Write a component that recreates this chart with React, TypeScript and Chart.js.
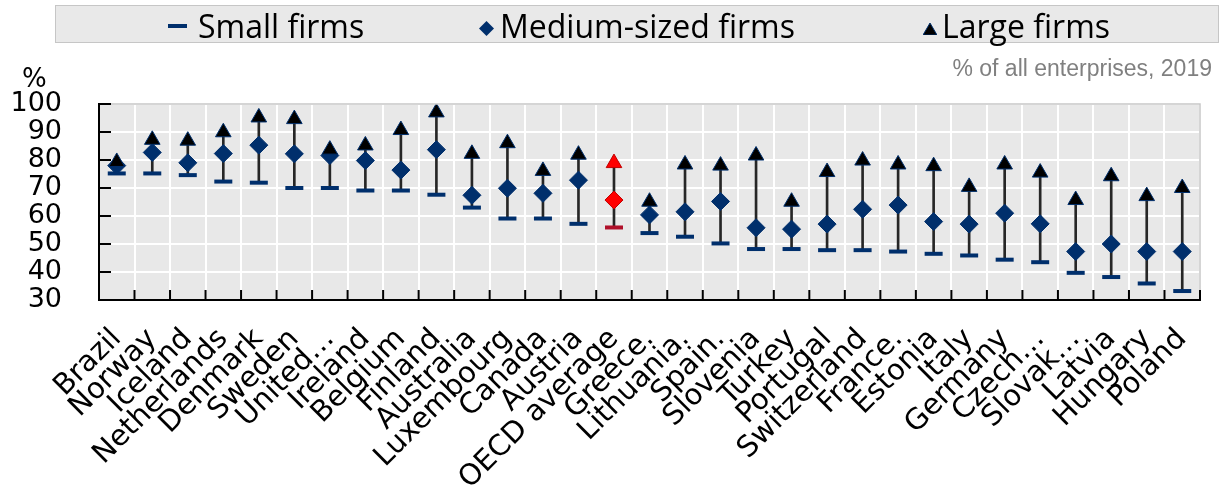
import React, { useEffect, useRef } from 'react';
import { Chart, registerables } from 'chart.js';

Chart.register(...registerables);

const categories = [
  'Brazil', 'Norway', 'Iceland', 'Netherlands', 'Denmark', 'Sweden', 'United…', 'Ireland',
  'Belgium', 'Finland', 'Australia', 'Luxembourg', 'Canada', 'Austria', 'OECD average',
  'Greece.', 'Lithuania.', 'Spain.', 'Slovenia', 'Turkey', 'Portugal', 'Switzerland',
  'France.', 'Estonia', 'Italy', 'Germany', 'Czech…', 'Slovak…', 'Latvia', 'Hungary', 'Poland',
];

const smallFirms = [
  75.2, 75.2, 74.6, 72.3, 71.9, 70.0, 70.0, 69.1, 69.1, 67.6, 63.0, 59.1, 59.1, 57.2, 55.9,
  53.9, 52.6, 50.2, 48.2, 48.2, 47.8, 47.8, 47.3, 46.5, 45.9, 44.4, 43.5, 39.7, 38.2, 35.9, 33.2,
];

const mediumFirms = [
  78.0, 82.7, 79.0, 82.3, 85.3, 82.2, 81.6, 79.8, 76.4, 83.7, 67.4, 69.9, 68.1, 72.8, 65.7,
  60.4, 61.5, 65.2, 55.8, 55.3, 57.1, 62.4, 63.9, 58.0, 57.1, 61.0, 57.2, 47.3, 50.0, 47.3, 47.3,
];

const largeFirms = [
  79.3, 87.2, 86.9, 89.9, 95.2, 94.6, 83.7, 85.2, 90.7, 97.0, 82.2, 86.0, 76.1, 81.9, 78.9,
  65.1, 78.4, 78.0, 81.6, 65.1, 75.7, 79.8, 78.4, 77.8, 70.4, 78.4, 75.5, 65.7, 74.2, 67.1, 70.0,
];

const yTickValues = [30, 40, 50, 60, 70, 80, 90, 100];

const seriesNames = ['Small firms', 'Medium-sized firms', 'Large firms'];
const highlightName = 'OECD average';

const NAVY = '#002f6c';
const RED = '#ff0000';
const DARK_RED = '#b0102a';

export default function App() {
  const canvasRef = useRef<HTMLCanvasElement | null>(null);

  useEffect(() => {
    document.body.style.margin = '0';
    const canvas = canvasRef.current;
    if (!canvas) return;
    const hi = categories.indexOf(highlightName);
    const pick = (normal: string, special: string) => categories.map((_, i) => (i === hi ? special : normal));

    const plotBackground = {
      id: 'plotBackground',
      beforeDraw(chart: any) {
        const { ctx, chartArea: a } = chart;
        ctx.save();
        ctx.fillStyle = '#e8e8e8';
        ctx.fillRect(a.left, a.top, a.right - a.left, a.bottom - a.top);
        ctx.restore();
      },
    };

    const frame = {
      id: 'frame',
      afterDraw(chart: any) {
        const { ctx, chartArea: a, scales } = chart;
        const xs = scales.x;
        const ys = scales.y;
        ctx.save();
        ctx.strokeStyle = '#c8c8c8';
        ctx.lineWidth = 1.5;
        ctx.beginPath();
        ctx.moveTo(a.left, a.top);
        ctx.lineTo(a.right, a.top);
        ctx.lineTo(a.right, a.bottom);
        ctx.stroke();

        ctx.strokeStyle = '#000';
        ctx.lineWidth = 2;
        ctx.beginPath();
        yTickValues.forEach((v) => {
          if (v === yTickValues[0]) return;
          const y = ys.getPixelForValue(v);
          ctx.moveTo(a.left, y);
          ctx.lineTo(a.left + 12, y);
        });
        for (let i = 1; i <= categories.length; i++) {
          const x =
            i < categories.length
              ? (xs.getPixelForValue(i - 1) + xs.getPixelForValue(i)) / 2
              : a.right;
          ctx.moveTo(x, a.bottom);
          ctx.lineTo(x, a.bottom - 10);
        }
        ctx.stroke();
        ctx.beginPath();
        ctx.moveTo(a.left, a.bottom);
        ctx.lineTo(a.right, a.bottom);
        ctx.stroke();
        ctx.restore();
      },
    };

    const chart = new Chart(canvas, {
      type: 'bar',
      data: {
        labels: categories,
        datasets: [
          {
            type: 'bar',
            label: 'range',
            data: smallFirms.map((s, i) => [s, largeFirms[i]]),
            backgroundColor: '#262626',
            borderWidth: 0,
            barThickness: 2,
            order: 4,
          } as any,
          {
            type: 'line',
            label: seriesNames[0],
            data: smallFirms,
            showLine: false,
            pointStyle: 'line',
            pointRadius: 9,
            pointBorderWidth: 4,
            pointBorderColor: pick(NAVY, DARK_RED),
            pointBackgroundColor: pick(NAVY, DARK_RED),
            order: 3,
          },
          {
            type: 'line',
            label: seriesNames[1],
            data: mediumFirms,
            showLine: false,
            pointStyle: 'rectRot',
            pointRadius: 9,
            pointBorderWidth: 1,
            pointBorderColor: pick(NAVY, '#c00000'),
            pointBackgroundColor: pick(NAVY, RED),
            order: 2,
          },
          {
            type: 'line',
            label: seriesNames[2],
            data: largeFirms,
            showLine: false,
            pointStyle: 'triangle',
            pointRadius: 9,
            pointBorderWidth: 1,
            pointBorderColor: pick(NAVY, '#c00000'),
            pointBackgroundColor: pick('#000000', RED),
            order: 1,
          },
        ],
      },
      options: {
        responsive: false,
        animation: false,
        devicePixelRatio: 1,
        layout: { padding: { top: 104, right: 21, bottom: 0, left: 0 } },
        plugins: {
          legend: { display: false },
          tooltip: { enabled: false },
        },
        scales: {
          x: {
            offset: true,
            grid: { color: '#ffffff', lineWidth: 2, offset: true, drawTicks: false },
            border: { display: true, color: '#000', width: 2 },
            ticks: {
              autoSkip: false,
              maxRotation: 45,
              minRotation: 45,
              padding: 22,
              color: '#000',
              font: { family: 'DejaVu Sans', size: 29 },
            },
            afterFit(scale: any) {
              scale.height = 191;
              scale.paddingLeft = 0;
              scale.paddingRight = 0;
            },
          },
          y: {
            min: 30,
            max: 100,
            afterBuildTicks(scale: any) {
              scale.ticks = yTickValues.map((v) => ({ value: v }));
            },
            grid: { color: '#ffffff', lineWidth: 2, drawTicks: false },
            border: { display: true, color: '#000', width: 2 },
            ticks: {
              autoSkip: false,
              padding: 37,
              color: '#000',
              font: { family: 'DejaVu Sans', size: 27 },
            },
            afterFit(scale: any) {
              scale.width = 99;
            },
          },
        },
      },
      plugins: [plotBackground, frame],
    } as any);

    return () => chart.destroy();
  }, []);

  const textStyle: React.CSSProperties = {
    position: 'absolute',
    top: 7,
    lineHeight: '38px',
    fontFamily: '"Open Sans", sans-serif',
    fontSize: 32,
    color: '#000',
    whiteSpace: 'nowrap',
  };

  return (
    <div style={{ position: 'absolute', left: 0, top: 0, width: 1221, height: 491, background: '#fff' }}>
      <canvas
        ref={canvasRef}
        width={1221}
        height={491}
        style={{ position: 'absolute', left: 0, top: 0, display: 'block' }}
      />
      <div
        style={{
          position: 'absolute',
          left: 55,
          top: 5,
          width: 1164,
          height: 38,
          background: '#e9e9e9',
          border: '1px solid #c6c6c6',
          boxSizing: 'border-box',
        }}
      />
      <div style={{ position: 'absolute', left: 168, top: 24, width: 19, height: 4, background: NAVY }} />
      <div style={{ ...textStyle, left: 198 }}>{seriesNames[0]}</div>
      <svg style={{ position: 'absolute', left: 479, top: 21 }} width={15} height={15}>
        <polygon points="7.5,0 15,7.5 7.5,15 0,7.5" fill={NAVY} />
      </svg>
      <div style={{ ...textStyle, left: 500 }}>{seriesNames[1]}</div>
      <svg style={{ position: 'absolute', left: 923, top: 23 }} width={14} height={12}>
        <polygon points="7,0 14,12 0,12" fill="#000" stroke={NAVY} strokeWidth={1} />
      </svg>
      <div style={{ ...textStyle, left: 942 }}>{seriesNames[2]}</div>
      <div
        style={{
          position: 'absolute',
          right: 9,
          top: 55,
          lineHeight: '26px',
          fontFamily: '"Liberation Sans", Arial, sans-serif',
          fontSize: 23,
          color: '#808080',
          whiteSpace: 'nowrap',
        }}
      >
        % of all enterprises, 2019
      </div>
      <div
        style={{
          position: 'absolute',
          left: 22,
          top: 63,
          lineHeight: '30px',
          fontFamily: '"DejaVu Sans", sans-serif',
          fontSize: 26,
          color: '#000',
        }}
      >
        %
      </div>
    </div>
  );
}
